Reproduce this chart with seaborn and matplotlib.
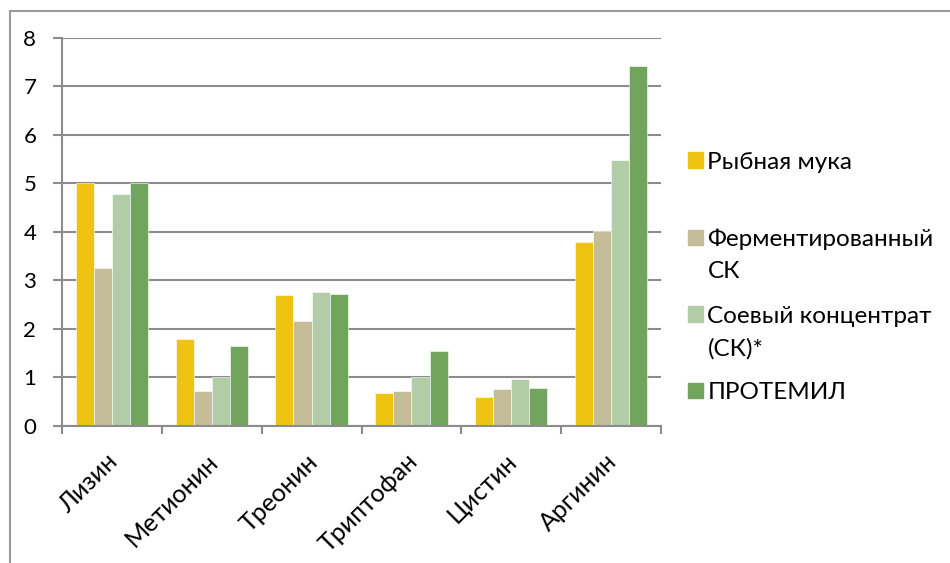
import numpy as np
import pandas as pd
import matplotlib.pyplot as plt
import matplotlib.patches as mpatches
import matplotlib.transforms as mtransforms
import seaborn as sns

# DATA

amino_acids = ["Лизин", "Метионин", "Треонин", "Триптофан", "Цистин", "Аргинин"]

fish_meal = [5.0, 1.79, 2.70, 0.68, 0.59, 3.79]
fermented_sc = [3.25, 0.72, 2.17, 0.73, 0.77, 4.02]
soy_concentrate = [4.78, 1.01, 2.76, 1.01, 0.96, 5.48]
protemil = [5.0, 1.64, 2.71, 1.54, 0.79, 7.41]

series_names = [
    "Рыбная мука",
    "Ферментированный СК",
    "Соевый концентрат (СК)*",
    "ПРОТЕМИЛ",
]
# legend text is wrapped like in the original: first lines + continuation lines
legend_first_lines = ["Рыбная мука", "Ферментированный", "Соевый концентрат", "ПРОТЕМИЛ"]
legend_second_lines = [" ", "СК", "(СК)*", " "]
series_colors = ["#EEC312", "#C4BD97", "#B1CCA6", "#71A55E"]

y_ticks = [0, 1, 2, 3, 4, 5, 6, 7, 8]

# TABLE

df = pd.DataFrame({
    "Аминокислота": amino_acids * 4,
    "Значение": fish_meal + fermented_sc + soy_concentrate + protemil,
    "Источник": [name for name in series_names for _ in amino_acids],
})

# STYLE

sns.set_style("white")
plt.rcParams["font.family"] = ["Lato", "DejaVu Sans"]
plt.rcParams["text.color"] = "black"
plt.rcParams["xtick.labelcolor"] = "black"
plt.rcParams["ytick.labelcolor"] = "black"

GRAY = "#8c8c8c"

fig = plt.figure(figsize=(9.5, 5.63), dpi=100)
ax = fig.add_axes([62 / 950, 1 - 426 / 563, 599 / 950, (426 - 37.5) / 563])

sns.barplot(
    data=df,
    x="Аминокислота",
    y="Значение",
    hue="Источник",
    palette=series_colors,
    saturation=1,
    width=0.725,
    edgecolor="white",
    linewidth=0.4,
    ax=ax
)

ax.set_xlim(-0.5, len(amino_acids) - 0.5)
ax.set_ylim(0, 8)
ax.set_yticks(y_ticks)
ax.set_xlabel("")
ax.set_ylabel("")

ax.yaxis.grid(True, color=GRAY, linewidth=1.5)
ax.set_axisbelow(True)

for side in ["top", "right"]:
    ax.spines[side].set_visible(False)
for side in ["left", "bottom"]:
    ax.spines[side].set_color(GRAY)
    ax.spines[side].set_linewidth(1.5)

ax.tick_params(axis="y", direction="out", length=6.5, width=1.5,
               color=GRAY, labelsize=16, pad=12, left=True)
ax.set_xticks(np.arange(-0.5, len(amino_acids)), minor=True)
ax.tick_params(axis="x", which="minor", direction="out", length=6,
               width=1.5, color=GRAY, bottom=True)
ax.tick_params(axis="x", which="major", length=0, labelsize=18, pad=17)
shift = mtransforms.ScaledTranslation(-0.06, 0, fig.dpi_scale_trans)
for label in ax.get_xticklabels():
    label.set_rotation(45)
    label.set_ha("right")
    label.set_va("top")
    label.set_rotation_mode("anchor")
    label.set_transform(label.get_transform() + shift)

# LEGEND

if ax.get_legend() is not None:
    ax.get_legend().remove()

legend_kw = dict(
    loc="center left",
    bbox_transform=fig.transFigure,
    frameon=False,
    fontsize=17.5,
    handlelength=0.6,
    handleheight=0.6,
    handletextpad=0.2,
    borderpad=0,
    borderaxespad=0,
    labelspacing=2.29,
)
handles = [mpatches.Patch(color=c) for c in series_colors]
fig.legend(handles, legend_first_lines,
           bbox_to_anchor=(688 / 950, 1 - 277.5 / 563), **legend_kw)
blank = [mpatches.Patch(alpha=0) for _ in series_colors]
fig.legend(blank, legend_second_lines,
           bbox_to_anchor=(688 / 950, 1 - 310.5 / 563), **legend_kw)

# OUTER FRAME

fig.patches.append(mpatches.Rectangle(
    (10 / 950, -0.1), 1.0, 1.1 - 11 / 563,
    transform=fig.transFigure, fill=False,
    edgecolor="#9a9a9a", linewidth=1.5
))

fig.savefig("out.png", dpi=100)
plt.close(fig)
